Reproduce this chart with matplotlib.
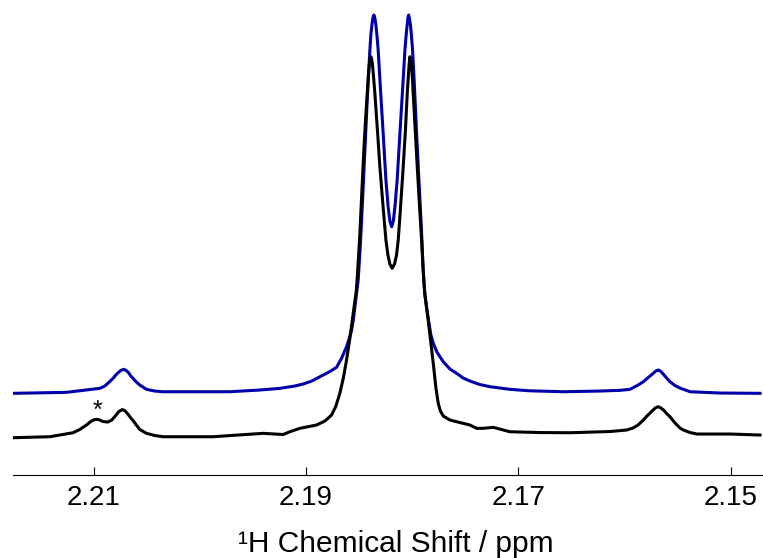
import numpy as np
import matplotlib
matplotlib.use("Agg")
import matplotlib.pyplot as plt

plt.rcParams['font.family'] = ['Liberation Sans', 'DejaVu Sans']

# --- Experimental spectrum (black), intensity normalised to the tallest line ---
ppm_exp = [2.21761, 2.21415, 2.21195, 2.21132, 2.21069, 2.21028, 2.21000, 2.20975,
           2.20948, 2.20915, 2.20868, 2.20830, 2.20797, 2.20764, 2.20730, 2.20703,
           2.20675, 2.20651, 2.20630, 2.20599, 2.20566, 2.20503, 2.20425, 2.20347,
           2.19876, 2.19405, 2.19216, 2.19153, 2.19059, 2.18901, 2.18823, 2.18760,
           2.18719, 2.18682, 2.18649, 2.18619, 2.18587, 2.18556, 2.18526, 2.18509,
           2.18493, 2.18474, 2.18456, 2.18440, 2.18424, 2.18413, 2.18404, 2.18396,
           2.18390, 2.18383, 2.18375, 2.18366, 2.18352, 2.18328, 2.18305, 2.18276,
           2.18248, 2.18229, 2.18211, 2.18189, 2.18167, 2.18148, 2.18132, 2.18112,
           2.18085, 2.18064, 2.18047, 2.18036, 2.18029, 2.18022, 2.18016, 2.18008,
           2.18000, 2.17991, 2.17972, 2.17953, 2.17932, 2.17912, 2.17897, 2.17885,
           2.17866, 2.17850, 2.17802, 2.17777, 2.17755, 2.17735, 2.17708, 2.17645,
           2.17582, 2.17520, 2.17457, 2.17393, 2.17331, 2.17237, 2.17080, 2.16797,
           2.16514, 2.16137, 2.15980, 2.15920, 2.15873, 2.15823, 2.15789, 2.15760,
           2.15732, 2.15704, 2.15682, 2.15657, 2.15628, 2.15600, 2.15572, 2.15544,
           2.15515, 2.15478, 2.15446, 2.15383, 2.15320, 2.15006, 2.14724]
int_exp = [-0.0018, 0.0008, 0.0113, 0.0197, 0.0316, 0.0408, 0.0452, 0.0465,
           0.0452, 0.0408, 0.0394, 0.0447, 0.0552, 0.0671, 0.0723, 0.0684,
           0.0592, 0.0500, 0.0434, 0.0316, 0.0197, 0.0097, 0.0039, 0.0008,
           0.0008, 0.0097, 0.0066, 0.0139, 0.0229, 0.0316, 0.0421, 0.0578,
           0.0815, 0.1149, 0.1551, 0.2025, 0.2603, 0.3253, 0.3865, 0.4602,
           0.5356, 0.6495, 0.7547, 0.8336, 0.9038, 0.9519, 0.9808, 0.9940,
           1.0000, 0.9940, 0.9808, 0.9519, 0.9038, 0.8073, 0.7108, 0.6101,
           0.5180, 0.4786, 0.4549, 0.4436, 0.4549, 0.4786, 0.5180, 0.5969,
           0.7108, 0.8073, 0.9038, 0.9519, 0.9808, 1.0000, 0.9940, 0.9808,
           0.9519, 0.9038, 0.8073, 0.7108, 0.6101, 0.5180, 0.4391, 0.3865,
           0.3418, 0.3077, 0.1938, 0.1289, 0.0886, 0.0684, 0.0552, 0.0447,
           0.0402, 0.0360, 0.0316, 0.0229, 0.0229, 0.0255, 0.0139, 0.0118,
           0.0113, 0.0145, 0.0184, 0.0237, 0.0316, 0.0447, 0.0552, 0.0631,
           0.0710, 0.0776, 0.0797, 0.0763, 0.0697, 0.0605, 0.0534, 0.0434,
           0.0342, 0.0237, 0.0184, 0.0118, 0.0079, 0.0079, 0.0053]

# --- Simulated spectrum (blue), same intensity scale ---
ppm_sim = [2.21761, 2.21257, 2.20943, 2.20896, 2.20849, 2.20818, 2.20793, 2.20764,
           2.20741, 2.20717, 2.20694, 2.20670, 2.20651, 2.20630, 2.20604, 2.20566,
           2.20503, 2.20425, 2.20347, 2.19718, 2.19436, 2.19247, 2.19106, 2.19028,
           2.18946, 2.18870, 2.18776, 2.18713, 2.18666, 2.18619, 2.18592, 2.18571,
           2.18555, 2.18540, 2.18509, 2.18489, 2.18468, 2.18446, 2.18424, 2.18410,
           2.18399, 2.18390, 2.18380, 2.18371, 2.18361, 2.18352, 2.18342, 2.18331,
           2.18321, 2.18300, 2.18274, 2.18248, 2.18227, 2.18211, 2.18194, 2.18178,
           2.18163, 2.18142, 2.18116, 2.18090, 2.18069, 2.18059, 2.18048, 2.18041,
           2.18034, 2.18027, 2.18017, 2.18008, 2.17997, 2.17982, 2.17959, 2.17937,
           2.17912, 2.17897, 2.17881, 2.17865, 2.17843, 2.17824, 2.17802, 2.17768,
           2.17708, 2.17645, 2.17582, 2.17520, 2.17457, 2.17362, 2.17268, 2.17080,
           2.16891, 2.16577, 2.16231, 2.16043, 2.15949, 2.15873, 2.15823, 2.15789,
           2.15760, 2.15732, 2.15706, 2.15682, 2.15657, 2.15628, 2.15600, 2.15572,
           2.15525, 2.15478, 2.15383, 2.15101, 2.14724]
int_sim = [0.0000, 0.0026, 0.0131, 0.0192, 0.0310, 0.0394, 0.0481, 0.0560,
           0.0607, 0.0631, 0.0600, 0.0534, 0.0455, 0.0394, 0.0310, 0.0218,
           0.0105, 0.0060, 0.0042, 0.0042, 0.0087, 0.0131, 0.0192, 0.0245,
           0.0323, 0.0436, 0.0573, 0.0684, 0.0920, 0.1225, 0.1454, 0.1664,
           0.1927, 0.2277, 0.2979, 0.3900, 0.5083, 0.6398, 0.7712, 0.8449,
           0.9027, 0.9421, 0.9684, 0.9869, 0.9947, 0.9869, 0.9684, 0.9369,
           0.9027, 0.8028, 0.6845, 0.5609, 0.4902, 0.4535, 0.4381, 0.4535,
           0.4902, 0.5609, 0.6845, 0.8028, 0.9027, 0.9369, 0.9684, 0.9869,
           0.9947, 0.9869, 0.9684, 0.9421, 0.9027, 0.8238, 0.6845, 0.5609,
           0.4215, 0.3242, 0.2585, 0.2269, 0.1849, 0.1533, 0.1315, 0.1086,
           0.0831, 0.0639, 0.0526, 0.0402, 0.0323, 0.0231, 0.0174, 0.0105,
           0.0066, 0.0042, 0.0060, 0.0079, 0.0105, 0.0218, 0.0305, 0.0389,
           0.0455, 0.0521, 0.0586, 0.0613, 0.0573, 0.0481, 0.0389, 0.0305,
           0.0205, 0.0139, 0.0042, 0.0008, 0.0000]

sim_offset = 0.1149
star_ppm, star_int = 2.20963, 0.068
xticks = [2.21, 2.19, 2.17, 2.15]

fig = plt.figure(figsize=(7.63, 5.58), dpi=100)
ax = fig.add_axes([0.017, 0.1487, 0.983, 0.8513])

ax.plot(ppm_sim, np.array(int_sim) + sim_offset, color='#0000aa', lw=2.2,
        solid_joinstyle='round')
ax.plot(ppm_exp, int_exp, color='black', lw=2.2, solid_joinstyle='round')
ax.text(star_ppm, star_int, '*', fontsize=18, ha='center', va='center')

ax.set_xlim(2.21761, 2.14696)
ax.set_ylim(-0.0999, 1.1491)

for s in ['left', 'top', 'right']:
    ax.spines[s].set_visible(False)
ax.spines['bottom'].set_linewidth(0.8)
ax.set_yticks([])
ax.set_xticks(xticks)
ax.set_xticklabels(['%.2f' % t for t in xticks])
ax.tick_params(axis='x', direction='in', length=5.5, width=0.8, labelsize=20, pad=7)
ax.set_xlabel('¹H Chemical Shift / ppm', fontsize=21.5, labelpad=14)
ax.xaxis.label.set_x(0.511)

fig.savefig('out.png', dpi=100)
